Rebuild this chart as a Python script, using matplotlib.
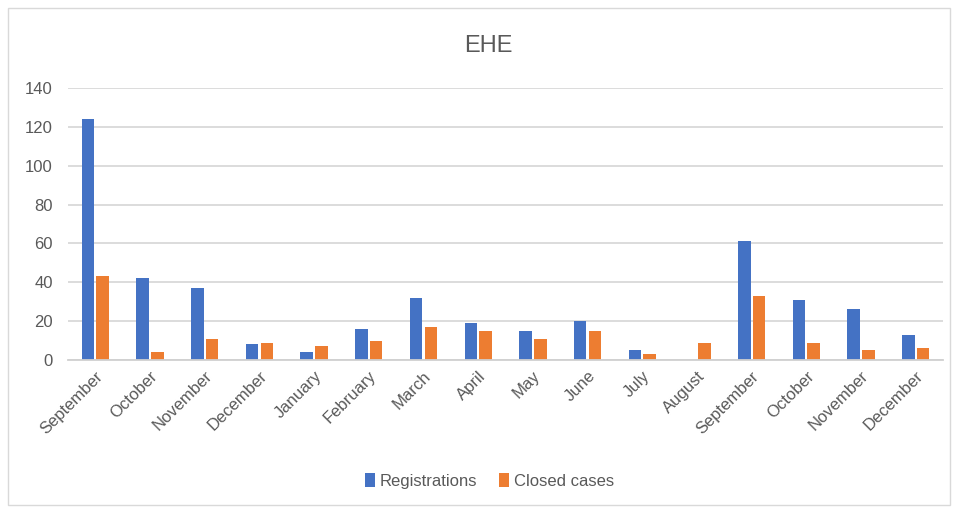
import numpy as np
import matplotlib.pyplot as plt
from matplotlib.patches import Rectangle

months = ['September', 'October', 'November', 'December', 'January', 'February',
          'March', 'April', 'May', 'June', 'July', 'August',
          'September', 'October', 'November', 'December']
registrations = [124, 42, 37, 8, 4, 16, 32, 19, 15, 20, 5, 0, 61, 31, 26, 13]
closed_cases = [43, 4, 11, 9, 7, 10, 17, 15, 11, 15, 3, 9, 33, 9, 5, 6]

blue = '#4472C4'
orange = '#ED7D31'
text_col = '#595959'

plt.rcParams['font.family'] = ['Liberation Sans', 'DejaVu Sans']

fig = plt.figure(figsize=(9.54, 5.08), dpi=100)
ax = fig.add_axes([0.0713, 0.2913, 0.9172, 0.5355])

# рамка вокруг диаграммы
fig.patches.append(Rectangle((0.008, 0.006), 0.988, 0.978, transform=fig.transFigure,
                             fill=False, edgecolor='#D9D9D9', linewidth=1))

x = np.arange(len(months))
w = 0.23
ax.bar(x - w / 2 - 0.02, registrations, w, color=blue, label='Registrations')
ax.bar(x + w / 2 + 0.02, closed_cases, w, color=orange, label='Closed cases')

ax.set_xlim(-0.5, len(months) - 0.5)
ax.set_ylim(0, 140)
ax.set_yticks(range(0, 141, 20))
ax.yaxis.grid(True, color='#D9D9D9', linewidth=1.3)
ax.set_axisbelow(True)
for s in ['top', 'right', 'left']:
    ax.spines[s].set_visible(False)
ax.spines['bottom'].set_color('#D0D0D0')
ax.spines['bottom'].set_linewidth(1.3)
ax.tick_params(axis='both', length=0, colors=text_col, labelsize=12)
ax.tick_params(axis='y', pad=11)
ax.tick_params(axis='x', pad=6)

ax.set_xticks(x)
ax.set_xticklabels(months, rotation=45, ha='right', rotation_mode='anchor')
for lbl in ax.get_xticklabels():
    lbl.set_color(text_col)

fig.text(0.512, 0.91, 'EHE', ha='center', va='center', fontsize=17, color=text_col)

fig.legend(loc='center', bbox_to_anchor=(0.513, 0.053), ncol=2, frameon=False,
           fontsize=12, labelcolor=text_col, handlelength=0.6, handleheight=0.9,
           columnspacing=1.3, handletextpad=0.3)

fig.savefig('out.png', dpi=100)
